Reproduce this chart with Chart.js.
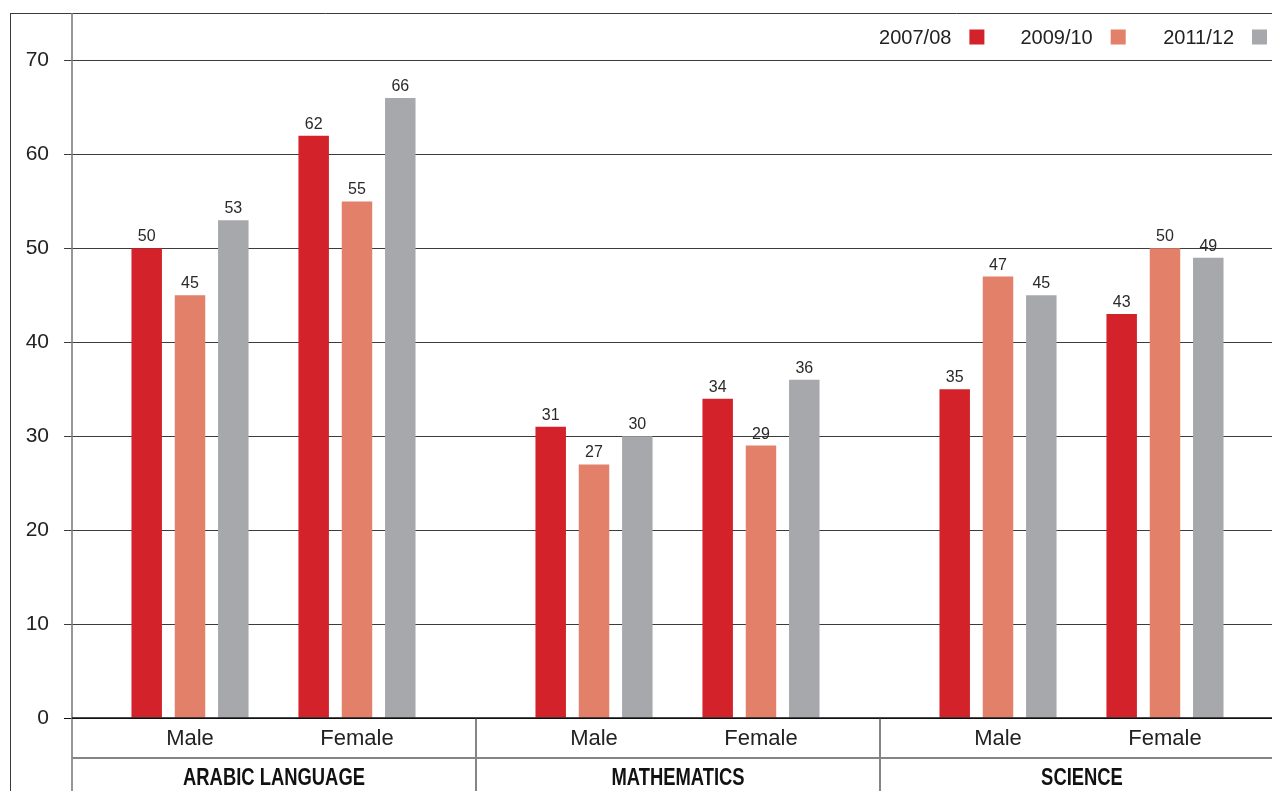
<!DOCTYPE html>
<html>
<head>
<meta charset="utf-8">
<title>Results by subject and gender</title>
<script src="https://cdn.jsdelivr.net/npm/chart.js@4/dist/chart.umd.min.js"></script>
<style>
  html, body { margin: 0; padding: 0; background: #fff; overflow: hidden; }
  #wrap { width: 1272px; height: 791px; position: relative; }
</style>
</head>
<body>
<div id="wrap"><canvas id="c" width="1272" height="791"></canvas></div>
<script>
// Subjects (outer axis level) and genders (inner axis level)
const subjects = ['ARABIC LANGUAGE', 'MATHEMATICS', 'SCIENCE'];
const genders = ['Male', 'Female'];

// Series labels
const years = ['2007/08', '2009/10', '2011/12'];

// Values per series, ordered subject by subject, Male then Female
const values2007 = [50, 62, 31, 34, 35, 43];
const values2009 = [45, 55, 27, 29, 47, 50];
const values2011 = [53, 66, 30, 36, 45, 49];

// Y axis ticks
const yTicks = [0, 10, 20, 30, 40, 50, 60, 70];

const seriesColors = ['#d3222a', '#e2806a', '#a7a8ac'];

// Where each gender sits inside a subject block (fraction of the block)
const GENDER_POS = [0.2921, 0.7054];
// Visible part of the x range (last block runs past the right edge)
const X_MAX = 1200 / 404;

const FONT = '"Liberation Sans", Arial, Helvetica, sans-serif';

function points(vals) {
  return vals.map((v, i) => ({
    x: Math.floor(i / genders.length) + GENDER_POS[i % genders.length],
    y: v
  }));
}

const tickPositions = [];
const tickNames = [];
subjects.forEach((s, si) => genders.forEach((g, gi) => {
  tickPositions.push(si + GENDER_POS[gi]);
  tickNames.push(g);
}));

const allValues = [values2007, values2009, values2011];

// Frame lines, separators, subject names and the series key
const framePlugin = {
  id: 'frame',
  afterDraw(chart) {
    const ctx = chart.ctx;
    const area = chart.chartArea;
    const xs = chart.scales.x;
    const W = chart.width, H = chart.height;
    ctx.save();

    // outer top and left rules
    ctx.strokeStyle = '#3a3a3a';
    ctx.lineWidth = 1;
    ctx.beginPath();
    ctx.moveTo(10, 13.5); ctx.lineTo(W, 13.5);
    ctx.moveTo(10.5, 13); ctx.lineTo(10.5, H);
    ctx.stroke();

    // vertical axis rule
    ctx.strokeStyle = '#7d7d7d';
    ctx.lineWidth = 1.6;
    ctx.beginPath();
    ctx.moveTo(area.left, 13); ctx.lineTo(area.left, H);
    ctx.stroke();

    // rule between the two label rows
    const rowY = 758;
    ctx.strokeStyle = '#858585';
    ctx.lineWidth = 2;
    ctx.beginPath();
    ctx.moveTo(area.left, rowY); ctx.lineTo(W, rowY);
    for (let i = 1; i < subjects.length; i++) {
      const px = Math.round(xs.getPixelForValue(i));
      ctx.moveTo(px, area.bottom); ctx.lineTo(px, H);
    }
    ctx.stroke();

    // zero line
    ctx.strokeStyle = '#111';
    ctx.lineWidth = 1.5;
    ctx.beginPath();
    ctx.moveTo(area.left, area.bottom); ctx.lineTo(W, area.bottom);
    ctx.stroke();

    // subject names, bold condensed
    ctx.fillStyle = '#111';
    ctx.font = '700 23px ' + FONT;
    ctx.textAlign = 'center';
    ctx.textBaseline = 'alphabetic';
    subjects.forEach((s, i) => {
      const cx = xs.getPixelForValue(i + 0.5);
      ctx.save();
      ctx.translate(cx, 785);
      ctx.scale(0.8, 1);
      ctx.fillText(s, 0, 0);
      ctx.restore();
    });

    // series key: label then square, laid out from the right
    const ds = chart.data.datasets;
    const pitch = 141.3;
    const sq = 15;
    ctx.font = '400 20px ' + FONT;
    ctx.textAlign = 'right';
    ctx.textBaseline = 'alphabetic';
    ds.forEach((d, i) => {
      const sqLeft = 1252 - (ds.length - 1 - i) * pitch;
      ctx.fillStyle = d.backgroundColor;
      ctx.fillRect(sqLeft, 29.5, sq, sq);
      ctx.fillStyle = '#222';
      ctx.fillText(d.label, sqLeft - 18, 44);
    });

    ctx.restore();
  }
};

// Numbers above each bar
const valueLabels = {
  id: 'valueLabels',
  afterDatasetsDraw(chart) {
    const ctx = chart.ctx;
    ctx.save();
    ctx.font = '400 16px ' + FONT;
    ctx.fillStyle = '#2a2a2a';
    ctx.textAlign = 'center';
    ctx.textBaseline = 'alphabetic';
    chart.data.datasets.forEach((d, di) => {
      const meta = chart.getDatasetMeta(di);
      meta.data.forEach((bar, i) => {
        ctx.fillText(String(d.data[i].y), bar.x, bar.y - 7);
      });
    });
    ctx.restore();
  }
};

new Chart(document.getElementById('c'), {
  type: 'bar',
  data: {
    datasets: years.map((y, i) => ({
      label: y,
      data: points(allValues[i]),
      backgroundColor: seriesColors[i],
      borderWidth: 0,
      categoryPercentage: 0.778,
      barPercentage: 0.704
    }))
  },
  options: {
    responsive: false,
    animation: false,
    events: [],
    layout: { padding: { top: 60.5, left: 0, right: 0, bottom: 0 } },
    plugins: {
      legend: { display: false },
      title: { display: false },
      tooltip: { enabled: false }
    },
    scales: {
      x: {
        type: 'linear',
        offset: false,
        min: 0,
        max: X_MAX,
        grid: { display: false },
        border: { display: false },
        afterBuildTicks(scale) {
          scale.ticks = tickPositions.map(v => ({ value: v }));
        },
        afterFit(scale) { scale.height = 73; },
        ticks: {
          autoSkip: false,
          maxRotation: 0,
          padding: 0,
          color: '#222',
          font: { family: FONT, size: 22 },
          callback: (v, i) => tickNames[i]
        }
      },
      y: {
        min: 0,
        max: 70,
        afterBuildTicks(scale) {
          scale.ticks = yTicks.map(v => ({ value: v }));
        },
        afterFit(scale) { scale.width = 72; },
        border: { display: false },
        grid: {
          color: ctx => ctx.tick && ctx.tick.value === 0 ? '#111' : '#3c3c3c',
          lineWidth: 1,
          tickLength: 8,
          drawTicks: true
        },
        ticks: {
          padding: 15,
          color: '#222',
          font: { family: FONT, size: 21 }
        }
      }
    }
  },
  plugins: [valueLabels, framePlugin]
});
</script>
</body>
</html>
